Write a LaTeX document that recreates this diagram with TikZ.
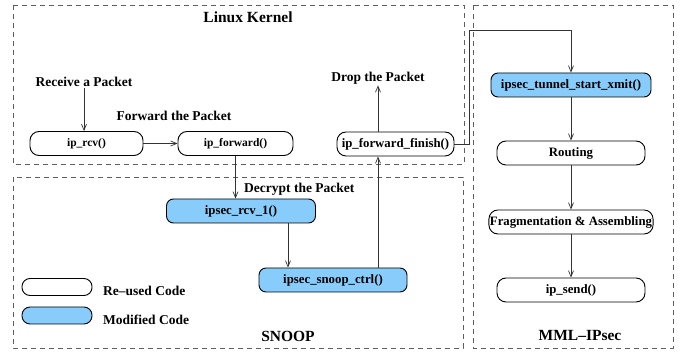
\documentclass[tikz,border=0pt]{standalone}
\usepackage{fontspec}
\setmainfont{Liberation Serif}
\usetikzlibrary{arrows.meta,positioning,shapes}
\definecolor{modblue}{RGB}{135,204,250}
\definecolor{framegray}{RGB}{95,95,95}

\begin{document}
\begin{tikzpicture}[x=1pt,y=-1pt]
	\tikzstyle{reused} = [rectangle, draw, line width=0.9pt, rounded corners=9pt, minimum height=24pt, inner sep=1pt, font=\fontsize{12.8}{14}\selectfont\bfseries]
	\tikzstyle{modified} = [reused, fill=modblue, rounded corners=7pt]
	\tikzstyle{label} = [draw=none, inner sep=1pt, font=\fontsize{13.5}{15}\selectfont\bfseries]
	\tikzstyle{title} = [draw=none, inner sep=1pt, font=\fontsize{15.5}{17}\selectfont\bfseries]
	\tikzstyle{frame} = [draw=framegray, line width=0.8pt, dash pattern=on 5pt off 4pt]
	\tikzstyle{arrow} = [draw, line width=0.7pt, black!80, -{Straight Barb[length=6pt,width=5pt]}]
	\useasboundingbox (0,0) rectangle (683,352);

	% frames
	\draw[frame] (13,5) rectangle (464,164);
	\draw[frame] (13,177) rectangle (463,348);
	\draw[frame] (473,5) rectangle (673,348);
	\node [title] (kernel) at (248,17) {Linux Kernel};
	\node [title] (snoop) at (288,336) {SNOOP};
	\node [title] (mml) at (580,336) {MML--IPsec};

	% linux kernel
	\node [reused, minimum width=113pt, font=\fontsize{11.5}{13}\selectfont\bfseries] (iprcv) at (86.5,143.5) {ip\_rcv()};
	\node [reused, minimum width=115pt, font=\fontsize{11.5}{13}\selectfont\bfseries] (ipfwd) at (235.5,143.5) {ip\_forward()};
	\node [reused, minimum width=117pt] (fwdfin) at (395.5,144) {ip\_forward\_finish()};
	\node [label] (recv) at (84,82) {Receive a Packet};
	\node [label] (forward) at (174,116) {Forward the Packet};
	\node [label] (drop) at (378,78) {Drop the Packet};

	% snoop
	\node [modified, minimum width=149pt] (rcvone) at (241,211) {ipsec\_rcv\_1()};
	\node [modified, minimum width=148pt] (snoopctrl) at (333,280) {ipsec\_snoop\_ctrl()};
	\node [label, anchor=west] (decrypt) at (243,189) {Decrypt the Packet};

	% legend
	\node [reused, minimum width=70pt, minimum height=17pt, rounded corners=8pt] (keyreused) at (57,287) {};
	\node [modified, minimum width=70pt, minimum height=17pt, rounded corners=8pt] (keymod) at (57,315.5) {};
	\node [label, anchor=west] (reusedtext) at (102,291) {Re--used Code};
	\node [label, anchor=west] (modtext) at (102,319.5) {Modified Code};

	% mml-ipsec
	\node [modified, minimum width=160pt] (tunnel) at (571,85) {ipsec\_tunnel\_start\_xmit()};
	\node [reused, minimum width=148pt] (routing) at (571,153) {Routing};
	\node [reused, minimum width=160pt] (frag) at (571,222) {Fragmentation \& Assembling};
	\node [reused, minimum width=148pt] (ipsend) at (571,290) {ip\_send()};
	\coordinate (bend) at (469,30);

	\path[arrow] (recv.south) -- (recv.south |- iprcv.north);
	\path[arrow] (iprcv) -- (ipfwd);
	\path[arrow] (ipfwd.south) -- (ipfwd.south |- rcvone.north);
	\path[arrow] ([xshift=47pt]rcvone.south) -- ([xshift=47pt]rcvone.south |- snoopctrl.north);
	\path[arrow] ([xshift=45pt]snoopctrl.north) -- ([xshift=45pt]snoopctrl.north |- fwdfin.south);
	\path[arrow] (drop.south |- fwdfin.north) -- (drop.south);
	\path[arrow] (fwdfin.east) -| (bend) -| (tunnel.north);
	\path[arrow] (tunnel) -- (routing);
	\path[arrow] (routing) -- (frag);
	\path[arrow] (frag) -- (ipsend);
\end{tikzpicture}
\end{document}
